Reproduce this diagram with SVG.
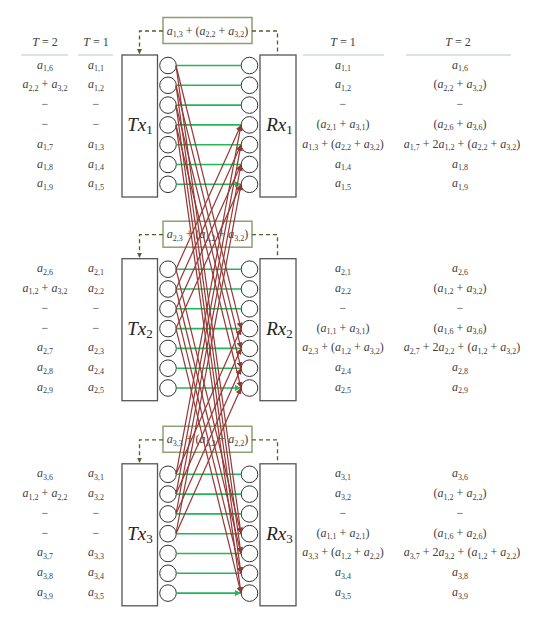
<svg xmlns="http://www.w3.org/2000/svg" width="545" height="640" viewBox="0 0 545 640">
<defs>
<style>
.m{font-family:"Liberation Serif","DejaVu Serif",serif;font-size:12px;fill:#404040;text-anchor:middle}
.i{font-style:italic}
.s{font-size:8px}
.lab{font-family:"Liberation Serif","DejaVu Serif",serif;font-size:19px;fill:#222;text-anchor:middle}
.box{fill:#fff;stroke:#555;stroke-width:1.3}
.ant{fill:#fff;stroke:#333;stroke-width:1}
.fb{fill:#fff;stroke:#8e9f72;stroke-width:1.5}
.dash{fill:none;stroke:#4f6228;stroke-width:1.3;stroke-dasharray:4 3}
.g{stroke:#22b85a;stroke-width:1.6;fill:none;marker-end:url(#ag)}
.r{stroke:#953735;stroke-width:1.2;fill:none;marker-end:url(#ar)}
.hl{stroke:#b9c4d9;stroke-width:1.2}
</style>
<marker id="ag" viewBox="0 0 6 6" refX="6" refY="3" markerWidth="4" markerHeight="4" orient="auto"><path d="M0,0L6,3L0,6z" fill="#22b85a"/></marker>
<marker id="ar" viewBox="0 0 6 6" refX="6" refY="3" markerWidth="5" markerHeight="5" orient="auto"><path d="M0,0L6,3L0,6z" fill="#953735"/></marker>
<marker id="ad" viewBox="0 0 6 6" refX="6" refY="3" markerWidth="4" markerHeight="4" orient="auto"><path d="M0,0L6,3L0,6z" fill="#4f6228"/></marker>
<g id="antcol">
<circle class="ant" cx="0" cy="65.5" r="8.3"/><circle class="ant" cx="0" cy="85.3" r="8.3"/><circle class="ant" cx="0" cy="105.1" r="8.3"/><circle class="ant" cx="0" cy="124.9" r="8.3"/><circle class="ant" cx="0" cy="144.7" r="8.3"/><circle class="ant" cx="0" cy="164.5" r="8.3"/><circle class="ant" cx="0" cy="184.3" r="8.3"/>
</g>
</defs>
<rect width="545" height="640" fill="#fff"/>

<g id="headers" class="m">
<text x="45" y="46"><tspan class="i">T</tspan> = 2</text>
<text x="96" y="46"><tspan class="i">T</tspan> = 1</text>
<text x="343" y="46"><tspan class="i">T</tspan> = 1</text>
<text x="458" y="46"><tspan class="i">T</tspan> = 2</text>
<line class="hl" x1="21" y1="55" x2="68" y2="55"/>
<line class="hl" x1="78" y1="55" x2="113" y2="55"/>
<line class="hl" x1="303" y1="55" x2="384" y2="55"/>
<line class="hl" x1="406" y1="55" x2="511" y2="55"/>
</g>

<!-- Block 1 -->
<g id="tx1"><rect class="box" x="122" y="55" width="35.5" height="142"/><text class="lab" x="140" y="131"><tspan class="i">Tx</tspan><tspan font-size="13" dy="3">1</tspan></text><use href="#antcol" x="168"/></g>
<g id="rx1"><rect class="box" x="260" y="55" width="36" height="142"/><text class="lab" x="279.5" y="131"><tspan class="i">Rx</tspan><tspan font-size="13" dy="3">1</tspan></text><use href="#antcol" x="249.5"/></g>
<g id="fb1"><rect class="fb" x="163" y="17.5" width="89" height="26"/><text class="m" x="207.5" y="34.5"><tspan class="i">a</tspan><tspan class="s" dy="2.5">1,3</tspan><tspan dy="-2.5"> + (</tspan><tspan class="i">a</tspan><tspan class="s" dy="2.5">2,2</tspan><tspan dy="-2.5"> + </tspan><tspan class="i">a</tspan><tspan class="s" dy="2.5">3,2</tspan><tspan dy="-2.5">)</tspan></text></g>
<g id="tx1-data" class="m">
<text x="45" y="68.5"><tspan class="i">a</tspan><tspan class="s" dy="2.5">1,6</tspan></text>
<text x="45" y="88.3"><tspan class="i">a</tspan><tspan class="s" dy="2.5">2,2</tspan><tspan dy="-2.5"> + </tspan><tspan class="i">a</tspan><tspan class="s" dy="2.5">3,2</tspan></text>
<text x="45" y="108.1">−</text>
<text x="45" y="127.9">−</text>
<text x="45" y="147.7"><tspan class="i">a</tspan><tspan class="s" dy="2.5">1,7</tspan></text>
<text x="45" y="167.5"><tspan class="i">a</tspan><tspan class="s" dy="2.5">1,8</tspan></text>
<text x="45" y="187.3"><tspan class="i">a</tspan><tspan class="s" dy="2.5">1,9</tspan></text>
<text x="96" y="68.5"><tspan class="i">a</tspan><tspan class="s" dy="2.5">1,1</tspan></text>
<text x="96" y="88.3"><tspan class="i">a</tspan><tspan class="s" dy="2.5">1,2</tspan></text>
<text x="96" y="108.1">−</text>
<text x="96" y="127.9">−</text>
<text x="96" y="147.7"><tspan class="i">a</tspan><tspan class="s" dy="2.5">1,3</tspan></text>
<text x="96" y="167.5"><tspan class="i">a</tspan><tspan class="s" dy="2.5">1,4</tspan></text>
<text x="96" y="187.3"><tspan class="i">a</tspan><tspan class="s" dy="2.5">1,5</tspan></text>
</g>
<g id="rx1-data" class="m">
<text x="343" y="68.5"><tspan class="i">a</tspan><tspan class="s" dy="2.5">1,1</tspan></text>
<text x="343" y="88.3"><tspan class="i">a</tspan><tspan class="s" dy="2.5">1,2</tspan></text>
<text x="343" y="108.1">−</text>
<text x="343" y="127.9">(<tspan class="i">a</tspan><tspan class="s" dy="2.5">2,1</tspan><tspan dy="-2.5"> + </tspan><tspan class="i">a</tspan><tspan class="s" dy="2.5">3,1</tspan><tspan dy="-2.5">)</tspan></text>
<text x="343" y="147.7"><tspan class="i">a</tspan><tspan class="s" dy="2.5">1,3</tspan><tspan dy="-2.5"> + (</tspan><tspan class="i">a</tspan><tspan class="s" dy="2.5">2,2</tspan><tspan dy="-2.5"> + </tspan><tspan class="i">a</tspan><tspan class="s" dy="2.5">3,2</tspan><tspan dy="-2.5">)</tspan></text>
<text x="343" y="167.5"><tspan class="i">a</tspan><tspan class="s" dy="2.5">1,4</tspan></text>
<text x="343" y="187.3"><tspan class="i">a</tspan><tspan class="s" dy="2.5">1,5</tspan></text>
<text x="460" y="68.5"><tspan class="i">a</tspan><tspan class="s" dy="2.5">1,6</tspan></text>
<text x="460" y="88.3">(<tspan class="i">a</tspan><tspan class="s" dy="2.5">2,2</tspan><tspan dy="-2.5"> + </tspan><tspan class="i">a</tspan><tspan class="s" dy="2.5">3,2</tspan><tspan dy="-2.5">)</tspan></text>
<text x="460" y="108.1">−</text>
<text x="460" y="127.9">(<tspan class="i">a</tspan><tspan class="s" dy="2.5">2,6</tspan><tspan dy="-2.5"> + </tspan><tspan class="i">a</tspan><tspan class="s" dy="2.5">3,6</tspan><tspan dy="-2.5">)</tspan></text>
<text x="462" y="147.7"><tspan class="i">a</tspan><tspan class="s" dy="2.5">1,7</tspan><tspan dy="-2.5"> + 2</tspan><tspan class="i">a</tspan><tspan class="s" dy="2.5">1,2</tspan><tspan dy="-2.5"> + (</tspan><tspan class="i">a</tspan><tspan class="s" dy="2.5">2,2</tspan><tspan dy="-2.5"> + </tspan><tspan class="i">a</tspan><tspan class="s" dy="2.5">3,2</tspan><tspan dy="-2.5">)</tspan></text>
<text x="460" y="167.5"><tspan class="i">a</tspan><tspan class="s" dy="2.5">1,8</tspan></text>
<text x="460" y="187.3"><tspan class="i">a</tspan><tspan class="s" dy="2.5">1,9</tspan></text>
</g>

<!-- Block 2 -->
<g id="tx2" transform="translate(0,203.7)"><rect class="box" x="122" y="55" width="35.5" height="142"/><text class="lab" x="140" y="131"><tspan class="i">Tx</tspan><tspan font-size="13" dy="3">2</tspan></text><use href="#antcol" x="168"/></g>
<g id="rx2" transform="translate(0,203.7)"><rect class="box" x="260" y="55" width="36" height="142"/><text class="lab" x="279.5" y="131"><tspan class="i">Rx</tspan><tspan font-size="13" dy="3">2</tspan></text><use href="#antcol" x="249.5"/></g>
<g id="fb2" transform="translate(0,203.7)"><rect class="fb" x="163" y="17.5" width="89" height="26"/><text class="m" x="207.5" y="34.5"><tspan class="i">a</tspan><tspan class="s" dy="2.5">2,3</tspan><tspan dy="-2.5"> + (</tspan><tspan class="i">a</tspan><tspan class="s" dy="2.5">1,2</tspan><tspan dy="-2.5"> + </tspan><tspan class="i">a</tspan><tspan class="s" dy="2.5">3,2</tspan><tspan dy="-2.5">)</tspan></text></g>
<g id="tx2-data" class="m" transform="translate(0,203.7)">
<text x="45" y="68.5"><tspan class="i">a</tspan><tspan class="s" dy="2.5">2,6</tspan></text>
<text x="45" y="88.3"><tspan class="i">a</tspan><tspan class="s" dy="2.5">1,2</tspan><tspan dy="-2.5"> + </tspan><tspan class="i">a</tspan><tspan class="s" dy="2.5">3,2</tspan></text>
<text x="45" y="108.1">−</text>
<text x="45" y="127.9">−</text>
<text x="45" y="147.7"><tspan class="i">a</tspan><tspan class="s" dy="2.5">2,7</tspan></text>
<text x="45" y="167.5"><tspan class="i">a</tspan><tspan class="s" dy="2.5">2,8</tspan></text>
<text x="45" y="187.3"><tspan class="i">a</tspan><tspan class="s" dy="2.5">2,9</tspan></text>
<text x="96" y="68.5"><tspan class="i">a</tspan><tspan class="s" dy="2.5">2,1</tspan></text>
<text x="96" y="88.3"><tspan class="i">a</tspan><tspan class="s" dy="2.5">2,2</tspan></text>
<text x="96" y="108.1">−</text>
<text x="96" y="127.9">−</text>
<text x="96" y="147.7"><tspan class="i">a</tspan><tspan class="s" dy="2.5">2,3</tspan></text>
<text x="96" y="167.5"><tspan class="i">a</tspan><tspan class="s" dy="2.5">2,4</tspan></text>
<text x="96" y="187.3"><tspan class="i">a</tspan><tspan class="s" dy="2.5">2,5</tspan></text>
</g>
<g id="rx2-data" class="m" transform="translate(0,203.7)">
<text x="343" y="68.5"><tspan class="i">a</tspan><tspan class="s" dy="2.5">2,1</tspan></text>
<text x="343" y="88.3"><tspan class="i">a</tspan><tspan class="s" dy="2.5">2,2</tspan></text>
<text x="343" y="108.1">−</text>
<text x="343" y="127.9">(<tspan class="i">a</tspan><tspan class="s" dy="2.5">1,1</tspan><tspan dy="-2.5"> + </tspan><tspan class="i">a</tspan><tspan class="s" dy="2.5">3,1</tspan><tspan dy="-2.5">)</tspan></text>
<text x="343" y="147.7"><tspan class="i">a</tspan><tspan class="s" dy="2.5">2,3</tspan><tspan dy="-2.5"> + (</tspan><tspan class="i">a</tspan><tspan class="s" dy="2.5">1,2</tspan><tspan dy="-2.5"> + </tspan><tspan class="i">a</tspan><tspan class="s" dy="2.5">3,2</tspan><tspan dy="-2.5">)</tspan></text>
<text x="343" y="167.5"><tspan class="i">a</tspan><tspan class="s" dy="2.5">2,4</tspan></text>
<text x="343" y="187.3"><tspan class="i">a</tspan><tspan class="s" dy="2.5">2,5</tspan></text>
<text x="460" y="68.5"><tspan class="i">a</tspan><tspan class="s" dy="2.5">2,6</tspan></text>
<text x="460" y="88.3">(<tspan class="i">a</tspan><tspan class="s" dy="2.5">1,2</tspan><tspan dy="-2.5"> + </tspan><tspan class="i">a</tspan><tspan class="s" dy="2.5">3,2</tspan><tspan dy="-2.5">)</tspan></text>
<text x="460" y="108.1">−</text>
<text x="460" y="127.9">(<tspan class="i">a</tspan><tspan class="s" dy="2.5">1,6</tspan><tspan dy="-2.5"> + </tspan><tspan class="i">a</tspan><tspan class="s" dy="2.5">3,6</tspan><tspan dy="-2.5">)</tspan></text>
<text x="462" y="147.7"><tspan class="i">a</tspan><tspan class="s" dy="2.5">2,7</tspan><tspan dy="-2.5"> + 2</tspan><tspan class="i">a</tspan><tspan class="s" dy="2.5">2,2</tspan><tspan dy="-2.5"> + (</tspan><tspan class="i">a</tspan><tspan class="s" dy="2.5">1,2</tspan><tspan dy="-2.5"> + </tspan><tspan class="i">a</tspan><tspan class="s" dy="2.5">3,2</tspan><tspan dy="-2.5">)</tspan></text>
<text x="460" y="167.5"><tspan class="i">a</tspan><tspan class="s" dy="2.5">2,8</tspan></text>
<text x="460" y="187.3"><tspan class="i">a</tspan><tspan class="s" dy="2.5">2,9</tspan></text>
</g>

<!-- Block 3 -->
<g id="tx3" transform="translate(0,408.8)"><rect class="box" x="122" y="55" width="35.5" height="142"/><text class="lab" x="140" y="131"><tspan class="i">Tx</tspan><tspan font-size="13" dy="3">3</tspan></text><use href="#antcol" x="168"/></g>
<g id="rx3" transform="translate(0,408.8)"><rect class="box" x="260" y="55" width="36" height="142"/><text class="lab" x="279.5" y="131"><tspan class="i">Rx</tspan><tspan font-size="13" dy="3">3</tspan></text><use href="#antcol" x="249.5"/></g>
<g id="fb3" transform="translate(0,408.8)"><rect class="fb" x="163" y="17.5" width="89" height="26"/><text class="m" x="207.5" y="34.5"><tspan class="i">a</tspan><tspan class="s" dy="2.5">3,3</tspan><tspan dy="-2.5"> + (</tspan><tspan class="i">a</tspan><tspan class="s" dy="2.5">1,2</tspan><tspan dy="-2.5"> + </tspan><tspan class="i">a</tspan><tspan class="s" dy="2.5">2,2</tspan><tspan dy="-2.5">)</tspan></text></g>
<g id="tx3-data" class="m" transform="translate(0,408.8)">
<text x="45" y="68.5"><tspan class="i">a</tspan><tspan class="s" dy="2.5">3,6</tspan></text>
<text x="45" y="88.3"><tspan class="i">a</tspan><tspan class="s" dy="2.5">1,2</tspan><tspan dy="-2.5"> + </tspan><tspan class="i">a</tspan><tspan class="s" dy="2.5">2,2</tspan></text>
<text x="45" y="108.1">−</text>
<text x="45" y="127.9">−</text>
<text x="45" y="147.7"><tspan class="i">a</tspan><tspan class="s" dy="2.5">3,7</tspan></text>
<text x="45" y="167.5"><tspan class="i">a</tspan><tspan class="s" dy="2.5">3,8</tspan></text>
<text x="45" y="187.3"><tspan class="i">a</tspan><tspan class="s" dy="2.5">3,9</tspan></text>
<text x="96" y="68.5"><tspan class="i">a</tspan><tspan class="s" dy="2.5">3,1</tspan></text>
<text x="96" y="88.3"><tspan class="i">a</tspan><tspan class="s" dy="2.5">3,2</tspan></text>
<text x="96" y="108.1">−</text>
<text x="96" y="127.9">−</text>
<text x="96" y="147.7"><tspan class="i">a</tspan><tspan class="s" dy="2.5">3,3</tspan></text>
<text x="96" y="167.5"><tspan class="i">a</tspan><tspan class="s" dy="2.5">3,4</tspan></text>
<text x="96" y="187.3"><tspan class="i">a</tspan><tspan class="s" dy="2.5">3,5</tspan></text>
</g>
<g id="rx3-data" class="m" transform="translate(0,408.8)">
<text x="343" y="68.5"><tspan class="i">a</tspan><tspan class="s" dy="2.5">3,1</tspan></text>
<text x="343" y="88.3"><tspan class="i">a</tspan><tspan class="s" dy="2.5">3,2</tspan></text>
<text x="343" y="108.1">−</text>
<text x="343" y="127.9">(<tspan class="i">a</tspan><tspan class="s" dy="2.5">1,1</tspan><tspan dy="-2.5"> + </tspan><tspan class="i">a</tspan><tspan class="s" dy="2.5">2,1</tspan><tspan dy="-2.5">)</tspan></text>
<text x="343" y="147.7"><tspan class="i">a</tspan><tspan class="s" dy="2.5">3,3</tspan><tspan dy="-2.5"> + (</tspan><tspan class="i">a</tspan><tspan class="s" dy="2.5">1,2</tspan><tspan dy="-2.5"> + </tspan><tspan class="i">a</tspan><tspan class="s" dy="2.5">2,2</tspan><tspan dy="-2.5">)</tspan></text>
<text x="343" y="167.5"><tspan class="i">a</tspan><tspan class="s" dy="2.5">3,4</tspan></text>
<text x="343" y="187.3"><tspan class="i">a</tspan><tspan class="s" dy="2.5">3,5</tspan></text>
<text x="460" y="68.5"><tspan class="i">a</tspan><tspan class="s" dy="2.5">3,6</tspan></text>
<text x="460" y="88.3">(<tspan class="i">a</tspan><tspan class="s" dy="2.5">1,2</tspan><tspan dy="-2.5"> + </tspan><tspan class="i">a</tspan><tspan class="s" dy="2.5">2,2</tspan><tspan dy="-2.5">)</tspan></text>
<text x="460" y="108.1">−</text>
<text x="460" y="127.9">(<tspan class="i">a</tspan><tspan class="s" dy="2.5">1,6</tspan><tspan dy="-2.5"> + </tspan><tspan class="i">a</tspan><tspan class="s" dy="2.5">2,6</tspan><tspan dy="-2.5">)</tspan></text>
<text x="462" y="147.7"><tspan class="i">a</tspan><tspan class="s" dy="2.5">3,7</tspan><tspan dy="-2.5"> + 2</tspan><tspan class="i">a</tspan><tspan class="s" dy="2.5">3,2</tspan><tspan dy="-2.5"> + (</tspan><tspan class="i">a</tspan><tspan class="s" dy="2.5">1,2</tspan><tspan dy="-2.5"> + </tspan><tspan class="i">a</tspan><tspan class="s" dy="2.5">2,2</tspan><tspan dy="-2.5">)</tspan></text>
<text x="460" y="167.5"><tspan class="i">a</tspan><tspan class="s" dy="2.5">3,8</tspan></text>
<text x="460" y="187.3"><tspan class="i">a</tspan><tspan class="s" dy="2.5">3,9</tspan></text>
</g>

<g id="connectors">
<!-- feedback dashed -->
<path class="dash" d="M163,31H139.5V54" marker-end="url(#ad)"/>
<path class="dash" d="M252,31H277.5V55"/>
<path class="dash" d="M163,234.7H139.5V257.7" marker-end="url(#ad)"/>
<path class="dash" d="M252,234.7H277.5V258.7"/>
<path class="dash" d="M163,439.8H139.5V462.8" marker-end="url(#ad)"/>
<path class="dash" d="M252,439.8H277.5V463.8"/>
<!-- direct green links -->
<path class="g" d="M176.5,65.5H241M176.5,85.3H241M176.5,105.1H241M176.5,124.9H241M176.5,144.7H241M176.5,164.5H241M176.5,184.3H241"/>
<path class="g" d="M176.5,269.2H241M176.5,289H241M176.5,308.8H241M176.5,328.6H241M176.5,348.4H241M176.5,368.2H241M176.5,388H241"/>
<path class="g" d="M176.5,474.3H241M176.5,494.1H241M176.5,513.9H241M176.5,533.7H241M176.5,553.5H241M176.5,573.3H241M176.5,593.1H241"/>
<!-- interference red links: Tx1 -->
<line class="r" x1="176" y1="65.5" x2="241" y2="328.6"/>
<line class="r" x1="176" y1="65.5" x2="241" y2="533.7"/>
<line class="r" x1="176" y1="85.3" x2="241" y2="348.4"/>
<line class="r" x1="176" y1="85.3" x2="241" y2="553.5"/>
<line class="r" x1="176" y1="105.1" x2="241" y2="368.2"/>
<line class="r" x1="176" y1="105.1" x2="241" y2="573.3"/>
<line class="r" x1="176" y1="124.9" x2="241" y2="388"/>
<line class="r" x1="176" y1="124.9" x2="241" y2="593.1"/>
<!-- Tx2 -->
<line class="r" x1="176" y1="269.2" x2="241" y2="124.9"/>
<line class="r" x1="176" y1="269.2" x2="241" y2="533.7"/>
<line class="r" x1="176" y1="289" x2="241" y2="144.7"/>
<line class="r" x1="176" y1="289" x2="241" y2="553.5"/>
<line class="r" x1="176" y1="308.8" x2="241" y2="164.5"/>
<line class="r" x1="176" y1="308.8" x2="241" y2="573.3"/>
<line class="r" x1="176" y1="328.6" x2="241" y2="184.3"/>
<line class="r" x1="176" y1="328.6" x2="241" y2="593.1"/>
<!-- Tx3 -->
<line class="r" x1="176" y1="474.3" x2="241" y2="124.9"/>
<line class="r" x1="176" y1="474.3" x2="241" y2="328.6"/>
<line class="r" x1="176" y1="494.1" x2="241" y2="144.7"/>
<line class="r" x1="176" y1="494.1" x2="241" y2="348.4"/>
<line class="r" x1="176" y1="513.9" x2="241" y2="164.5"/>
<line class="r" x1="176" y1="513.9" x2="241" y2="368.2"/>
<line class="r" x1="176" y1="533.7" x2="241" y2="184.3"/>
<line class="r" x1="176" y1="533.7" x2="241" y2="388"/>
</g>
</svg>
